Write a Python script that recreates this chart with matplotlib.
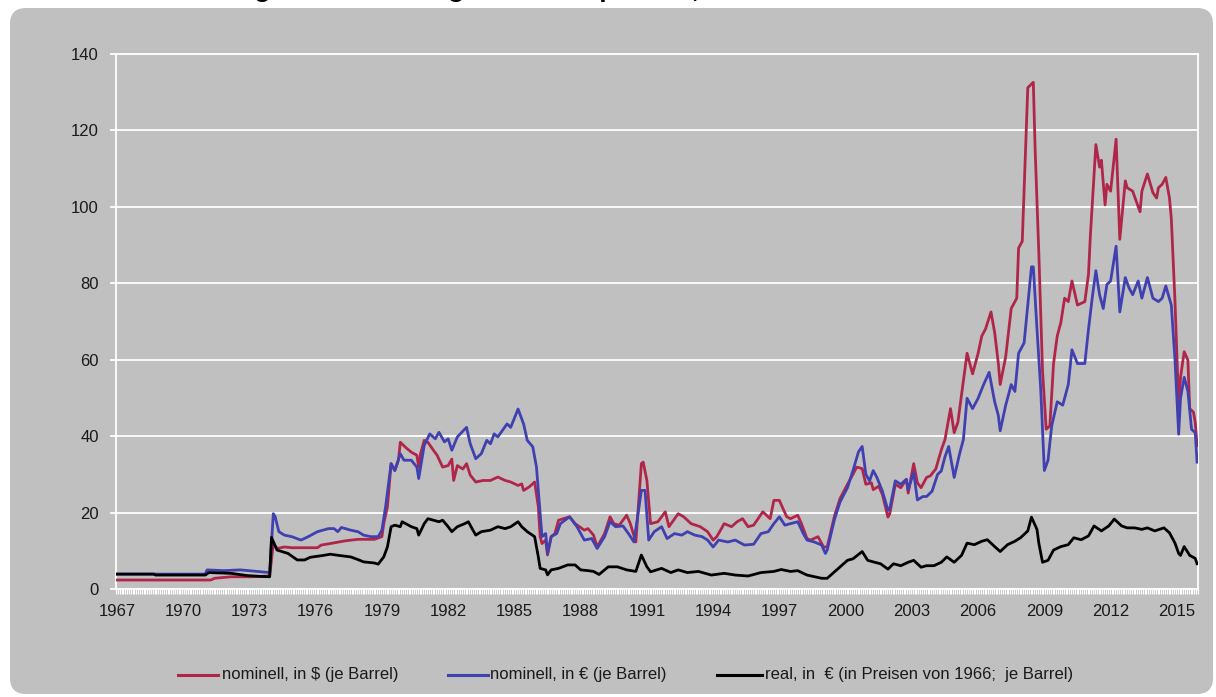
import numpy as np
import matplotlib
matplotlib.use('Agg')
import matplotlib.pyplot as plt
from matplotlib.patches import FancyBboxPatch
from matplotlib.lines import Line2D
from matplotlib.transforms import IdentityTransform
from matplotlib.ticker import FixedLocator

# months since Jan 1967 -> values
red_m = [0, 51, 53, 62, 73, 83, 85, 87, 91, 95, 109, 111, 116, 124, 131, 140, 144, 145, 147, 149,
         151, 153, 154, 157, 160, 163, 164, 165, 167, 169, 172, 174, 177, 180, 182, 183, 185, 188, 190, 192,
         195, 199, 203, 207, 211, 214, 218, 220, 221, 224, 227, 229, 230, 231, 233, 234, 236, 238, 240, 246,
         249, 254, 256, 259, 261, 265, 268, 270, 273, 277, 279, 282, 285, 286, 288, 290, 294, 298, 300, 305,
         308, 312, 317, 321, 324, 326, 330, 334, 337, 340, 343, 346, 351, 355, 357, 360, 362, 364, 366, 370,
         372, 375, 377, 381, 384, 386, 390, 393, 397, 400, 402, 405, 407, 410, 411, 414, 416, 419, 420, 423,
         426, 429, 430, 433, 435, 437, 440, 442, 445, 448, 450, 451, 453, 455, 457, 459, 462, 465, 468, 470,
         472, 475, 477, 479, 480, 483, 486, 489, 490, 492, 495, 498, 499, 501, 503, 505, 507, 509, 511, 513,
         515, 517, 519, 522, 526, 528, 529, 532, 534, 535, 537, 538, 540, 543, 545, 548, 549, 552, 556, 557,
         560, 563, 565, 566, 568, 570, 572, 573, 575, 577, 578, 580, 582, 583, 585, 586, 587]
red_v = [2.35, 2.35, 2.8, 3.2, 3.2, 3.4, 11.9, 10.6, 11.0, 10.8, 10.8, 11.5, 11.9, 12.6, 13.0, 13.0, 13.7, 17.1, 21.5, 32.8,
         31.0, 33.7, 38.4, 37.0, 35.8, 35.0, 31.9, 35.4, 38.9, 38.4, 36.3, 35.0, 31.9, 32.3, 34.0, 28.4, 32.3, 31.4, 32.8, 29.8,
         28.0, 28.4, 28.4, 29.3, 28.4, 28.0, 27.1, 27.5, 25.8, 26.7, 28.0, 21.5, 13.7, 11.9, 12.8, 8.9, 13.7, 14.5, 18.0, 18.9,
         17.1, 15.4, 15.8, 14.1, 11.0, 14.5, 18.9, 17.1, 16.7, 19.3, 17.1, 12.3, 32.8, 33.2, 28.4, 17.1, 17.6, 20.2, 16.3, 19.7,
         18.9, 17.1, 16.3, 15.0, 12.8, 13.7, 17.1, 16.3, 17.6, 18.4, 16.3, 16.7, 20.2, 18.4, 23.2, 23.2, 21.0, 18.9, 18.4, 19.3,
         17.1, 13.2, 12.8, 13.7, 11.0, 11.0, 19.2, 23.7, 27.4, 30.0, 31.9, 31.5, 27.4, 27.8, 26.0, 26.9, 24.7, 18.8, 19.7, 27.4,
         26.5, 28.7, 25.1, 32.8, 27.8, 26.5, 29.2, 29.6, 31.4, 36.4, 39.1, 41.8, 47.2, 40.9, 43.6, 50.8, 61.7, 56.3, 61.7, 66.2,
         68.0, 72.5, 67.1, 59.0, 53.5, 60.8, 73.4, 76.1, 89.2, 91.0, 131.2, 132.6, 115.0, 87.9, 57.2, 41.8, 42.7, 59.0, 66.2, 69.8,
         76.1, 75.2, 80.6, 74.3, 75.2, 82.4, 92.4, 116.3, 110.4, 112.2, 100.5, 105.9, 104.1, 117.7, 91.5, 106.8, 105.0, 104.1, 98.7, 104.1,
         108.6, 103.7, 102.3, 105.0, 105.9, 107.7, 102.3, 96.9, 75.2, 48.1, 55.4, 62.1, 59.9, 47.2, 46.3, 43.6, 37.5]

blue_m = [0, 48, 49, 58, 67, 76, 83, 85, 86, 88, 91, 95, 100, 104, 109, 115, 118, 120, 122, 127,
          131, 134, 138, 142, 144, 146, 149, 151, 154, 156, 160, 163, 164, 167, 170, 173, 175, 178, 180, 182,
          185, 190, 192, 195, 198, 201, 203, 205, 207, 212, 214, 218, 221, 223, 226, 228, 230, 231, 233, 234,
          236, 239, 241, 246, 250, 254, 258, 261, 265, 268, 271, 275, 278, 281, 285, 287, 289, 292, 296, 299,
          303, 307, 310, 314, 318, 321, 324, 327, 332, 336, 341, 346, 350, 354, 357, 360, 363, 366, 370, 373,
          375, 379, 383, 385, 386, 390, 393, 397, 400, 403, 405, 407, 409, 411, 413, 416, 419, 420, 423, 426,
          429, 430, 433, 435, 438, 440, 443, 446, 448, 450, 452, 455, 458, 460, 462, 465, 468, 471, 474, 477,
          479, 480, 483, 486, 488, 490, 493, 497, 498, 500, 502, 504, 506, 508, 511, 514, 517, 519, 522, 526,
          528, 530, 532, 534, 536, 538, 540, 543, 545, 548, 550, 552, 555, 557, 560, 563, 566, 568, 570, 573,
          575, 577, 578, 580, 582, 584, 586, 587]
blue_v = [3.9, 3.9, 5.0, 4.8, 5.0, 4.6, 4.3, 19.7, 18.9, 15.0, 14.1, 13.7, 12.8, 13.7, 15.0, 15.8, 15.8, 15.0, 16.1, 15.4,
          15.0, 14.1, 13.7, 13.7, 15.4, 21.5, 32.8, 31.0, 35.4, 33.7, 33.7, 31.9, 28.9, 37.6, 40.6, 39.3, 41.0, 38.5, 39.3, 36.3,
          39.8, 42.3, 38.0, 34.1, 35.4, 38.9, 38.0, 40.6, 39.8, 43.2, 42.3, 47.1, 43.2, 38.9, 37.2, 31.9, 19.7, 13.7, 14.5, 9.3,
          13.7, 14.5, 17.1, 18.9, 16.3, 12.8, 13.2, 10.6, 13.7, 17.6, 16.3, 16.5, 14.5, 12.3, 25.8, 25.8, 12.8, 15.0, 16.3, 13.2,
          14.5, 14.1, 15.0, 14.1, 13.7, 12.8, 11.0, 12.8, 12.3, 12.8, 11.5, 11.7, 14.5, 15.0, 17.1, 18.9, 16.7, 17.1, 17.6, 14.5,
          12.8, 12.3, 11.5, 9.3, 10.2, 18.3, 22.8, 26.5, 31.0, 35.9, 37.3, 30.0, 28.3, 31.0, 29.2, 25.6, 20.6, 21.0, 28.3, 27.4,
          28.7, 26.0, 30.5, 23.3, 24.2, 24.2, 25.6, 30.0, 30.9, 34.6, 37.3, 29.2, 35.5, 39.1, 49.9, 47.2, 49.9, 53.5, 56.7, 49.0,
          45.4, 41.4, 48.1, 53.5, 51.7, 61.7, 64.4, 84.3, 84.3, 68.0, 52.6, 31.0, 33.7, 42.7, 49.0, 48.1, 53.5, 62.6, 59.0, 59.0,
          68.0, 76.1, 83.3, 77.0, 73.4, 79.7, 80.6, 89.7, 72.5, 81.5, 78.8, 77.0, 80.6, 76.1, 81.5, 76.1, 75.2, 76.1, 79.3, 74.3,
          59.9, 40.5, 49.9, 55.4, 51.8, 41.8, 40.9, 33.2]

black_m = [0, 20, 21, 48, 50, 62, 71, 78, 83, 84, 87, 93, 98, 102, 105, 111, 116, 122, 127, 131,
           134, 140, 142, 145, 147, 149, 151, 154, 155, 160, 163, 164, 167, 169, 172, 175, 177, 180, 182, 185,
           189, 191, 193, 195, 198, 203, 207, 211, 214, 218, 220, 223, 227, 229, 230, 233, 234, 236, 240, 245,
           249, 252, 256, 259, 262, 267, 272, 277, 282, 285, 288, 290, 296, 301, 305, 310, 316, 323, 330, 336,
           343, 350, 357, 361, 366, 370, 375, 383, 386, 390, 393, 397, 400, 405, 408, 411, 415, 419, 422, 426,
           430, 433, 437, 440, 444, 448, 451, 455, 459, 462, 466, 470, 473, 477, 480, 484, 488, 491, 495, 497,
           500, 501, 503, 506, 509, 513, 517, 520, 524, 528, 531, 535, 539, 542, 546, 549, 553, 557, 560, 564,
           569, 572, 575, 577, 578, 580, 583, 586, 587]
black_v = [3.9, 3.9, 3.65, 3.65, 4.3, 4.1, 3.5, 3.3, 3.2, 13.5, 10.2, 9.3, 7.6, 7.6, 8.3, 8.7, 9.1, 8.7, 8.4, 7.7,
           7.1, 6.8, 6.5, 8.4, 11.0, 16.3, 16.7, 16.3, 17.6, 16.3, 15.8, 14.1, 17.1, 18.4, 18.0, 17.6, 18.0, 16.3, 15.0, 16.3,
           17.1, 17.6, 15.8, 14.1, 15.0, 15.4, 16.3, 15.8, 16.3, 17.6, 16.3, 15.0, 13.7, 8.4, 5.4, 5.0, 3.7, 5.0, 5.4, 6.3,
           6.3, 5.0, 4.8, 4.6, 3.8, 5.8, 5.8, 5.0, 4.6, 8.9, 5.8, 4.5, 5.4, 4.3, 5.0, 4.3, 4.6, 3.65, 4.1, 3.65,
           3.4, 4.3, 4.6, 5.1, 4.6, 4.8, 3.65, 2.8, 2.8, 4.5, 5.8, 7.5, 7.9, 9.8, 7.5, 7.1, 6.6, 5.2, 6.6, 6.1,
           7.0, 7.5, 5.7, 6.1, 6.1, 7.0, 8.4, 7.0, 8.8, 12.0, 11.6, 12.5, 12.9, 11.1, 9.8, 11.6, 12.5, 13.4, 15.2, 18.8,
           15.6, 12.0, 7.0, 7.5, 10.2, 11.1, 11.6, 13.4, 12.9, 13.9, 16.5, 15.2, 16.5, 18.3, 16.5, 16.0, 16.0, 15.6, 16.0, 15.2,
           16.0, 14.7, 12.0, 9.3, 8.8, 11.1, 8.8, 8.0, 6.6]

year_labels = list(range(1967, 2016, 3))
y_ticks = list(range(0, 141, 20))

labels = ['nominell, in $ (je Barrel)',
          'nominell, in € (je Barrel)',
          'real, in  € (in Preisen von 1966;  je Barrel)']
colors = ['#B0264A', '#4040B0', '#000000']

W, H = 1216, 697
plt.rcParams['font.family'] = ['Liberation Sans', 'DejaVu Sans']

fig = plt.figure(figsize=(W / 100, H / 100), dpi=100)
fig.patch.set_facecolor('white')

# grey rounded panel behind everything
panel = FancyBboxPatch((10, 3), 1203, 686, boxstyle='round,pad=0,rounding_size=16',
                       transform=IdentityTransform(), facecolor='#C0C0C0', edgecolor='none', zorder=-5)
fig.add_artist(panel)

# title cut off at the top edge (as in the source), only descenders visible
fig.text(140 / W, 1 + 3 / H, 'Abbildung 1: Entwicklung des Rohölpreises, 1967 – 2015',
         fontsize=19, fontweight='bold', va='baseline', ha='left', color='black')

ax = fig.add_axes([116 / W, (H - 589) / H, (1198 - 116) / W, (589 - 54) / H])
ax.set_facecolor('none')

series = [(red_m, red_v), (blue_m, blue_v), (black_m, black_v)]
for (m, v), c in zip(series, colors):
    x = 1967 + (np.array(m) + 0.5) / 12
    ax.plot(x, v, color=c, lw=2.0, solid_joinstyle='round', zorder=3)

ax.set_xlim(1967, 2016)
ax.set_ylim(0, 140)

ax.set_yticks(y_ticks)
ax.yaxis.grid(True, color='white', lw=1.3)
ax.set_axisbelow(True)

ax.xaxis.set_major_locator(FixedLocator([y + 0.5 / 12 for y in year_labels]))
ax.set_xticklabels([str(y) for y in year_labels])
ax.xaxis.set_minor_locator(FixedLocator([1967 + k / 12 for k in range(0, 589)]))

for s in ['left', 'bottom', 'right', 'top']:
    ax.spines[s].set_color('white')
    ax.spines[s].set_linewidth(1.3)

ax.tick_params(axis='y', direction='out', length=4.3, width=1.3, color='white',
               labelsize=12, labelcolor='#1a1a1a', pad=8)
ax.tick_params(axis='x', which='major', length=0, labelsize=12, labelcolor='#1a1a1a', pad=11)
ax.tick_params(axis='x', which='minor', direction='out', length=3.6, width=0.9, color='white')

# legend, drawn by hand to match the spacing
leg_y = 1 - 675 / H
leg_items = [(178, 218, 222), (448, 488, 490), (717, 762, 765)]
for (x0, x1, xt), lab, c in zip(leg_items, labels, colors):
    fig.add_artist(Line2D([x0 / W, x1 / W], [leg_y, leg_y], transform=fig.transFigure,
                          color=c, lw=2.2))
    fig.text(xt / W, leg_y, lab, fontsize=12, va='center', ha='left', color='#1a1a1a')

fig.savefig('out.png', dpi=100)
